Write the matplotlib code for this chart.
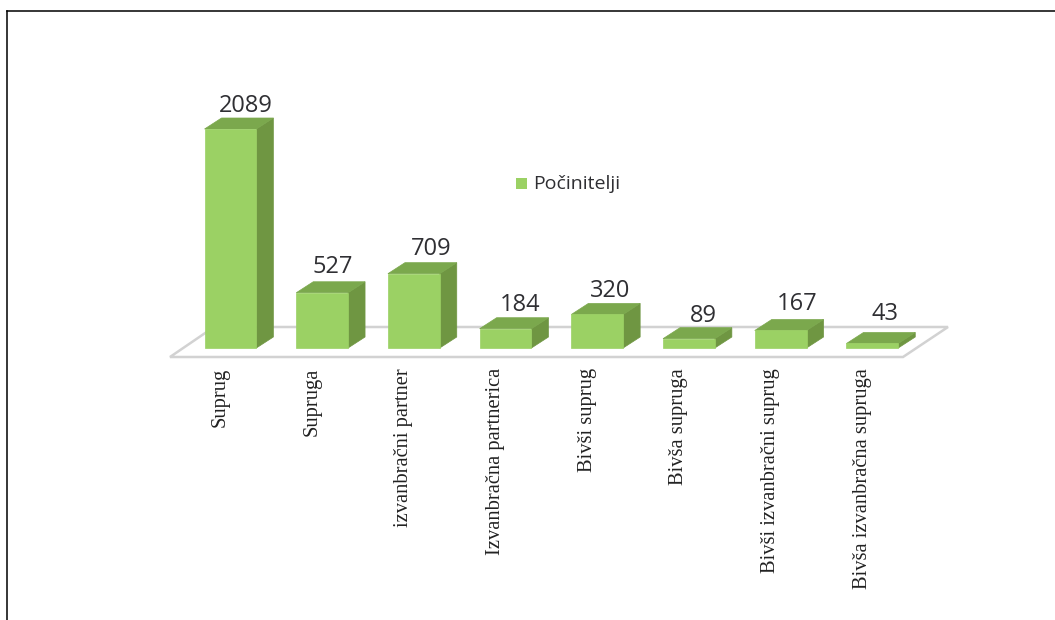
import matplotlib
matplotlib.use("Agg")
import matplotlib.pyplot as plt
from matplotlib.patches import Polygon, Rectangle
from matplotlib.lines import Line2D

categories = ["Suprug", "Supruga", "izvanbračni partner", "Izvanbračna partnerica",
              "Bivši suprug", "Bivša supruga", "Bivši izvanbračni suprug",
              "Bivša izvanbračna supruga"]
values = [2089, 527, 709, 184, 320, 89, 167, 43]
series_name = "Počinitelji"

# label nudges in pixels, the labels in the original are not quite even
label_dx = [15, 11, 17, 15, 13, 14, 17, 13]
label_dy = [12, 15, 14, 13, 12, 12, 15, 18]

W, H = 1055, 620
FRONT = "#9bd164"
TOP = "#7ba84d"
SIDE = "#6f9642"
FLOOR = "#d2d2d2"
TEXT = "#2f2f33"

fig = plt.figure(figsize=(W / 100, H / 100), dpi=100)
# axes box: categories -0.5..7.5 and values 0..2089 fill this pixel area
left, right, top, bottom = 184.6, 918.2, 129, 348
ax = fig.add_axes([left / W, 1 - bottom / H, (right - left) / W, (bottom - top) / H])
ax.set_xlim(-0.5, 7.5)
ax.set_ylim(0, 2089)
ax.axis("off")

px = (right - left) / 8
py = 2089 / (bottom - top)
dx = 17 / px
dy = 11 * py
width = 0.565

# floor
floor_y = -9 * py
back_y = 21 * py
ax.add_patch(Polygon([(-0.5 - 14.6 / px, floor_y), (7.5 - 15.2 / px, floor_y),
                      (7.5 + 29.8 / px, back_y), (-0.5 + 29.4 / px, back_y)],
                     closed=True, fc="white", ec=FLOOR, lw=1.8, clip_on=False, zorder=1))

for i, (name, v) in enumerate(zip(categories, values)):
    x0 = i - width / 2
    x1 = i + width / 2
    ax.add_patch(Polygon([(x1, 0), (x1 + dx, dy), (x1 + dx, v + dy), (x1, v)],
                         fc=SIDE, ec=SIDE, lw=0.5, clip_on=False, zorder=2))
    ax.add_patch(Polygon([(x0, v), (x0 + dx, v + dy), (x1 + dx, v + dy), (x1, v)],
                         fc=TOP, ec=TOP, lw=0.5, clip_on=False, zorder=2))
    ax.add_patch(Rectangle((x0, 0), width, v, fc=FRONT, ec=FRONT, lw=0.5,
                           clip_on=False, zorder=3))
    ax.annotate(str(v), (i, v + dy), xytext=(label_dx[i] * 0.72, label_dy[i] * 0.72),
                textcoords="offset points", ha="center", va="center",
                fontsize=17, family="Open Sans", color=TEXT, annotation_clip=False)
    ax.annotate(name, (i, 0), xytext=(-10 * 0.72, -20 * 0.72), textcoords="offset points",
                rotation=90, ha="center", va="top", fontsize=14.8,
                family="Liberation Serif", color="#222222", annotation_clip=False)

# legend
fig.add_artist(Rectangle((516 / W, 1 - 189 / H), 11 / W, 11 / H, fc=FRONT, ec="none",
                         transform=fig.transFigure))
fig.text(533 / W, 1 - 184 / H, series_name, ha="left", va="center", fontsize=14,
         family="Open Sans", color=TEXT)

# page border, top and left only
fig.add_artist(Line2D([7 / W, 7 / W], [0, 1 - 11 / H], color="black", lw=1.1))
fig.add_artist(Line2D([7 / W, 1], [1 - 11 / H, 1 - 11 / H], color="black", lw=1.1))

fig.savefig("out.png", dpi=100)
